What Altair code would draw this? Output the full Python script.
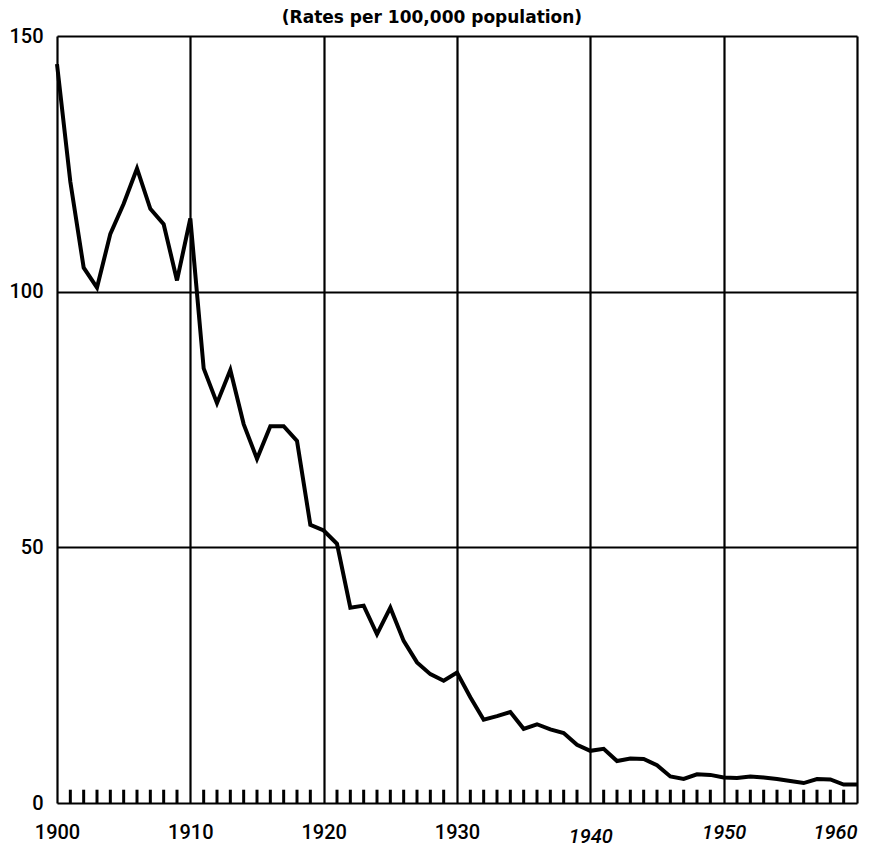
import altair as alt
import pandas as pd

years = list(range(1900, 1961))
rates = [
    144.5, 121.5, 104.7, 100.8, 111.3, 117.2, 124.1, 116.2, 113.2, 102.2,
    114.3, 85.0, 78.2, 84.7, 74.1, 67.3, 73.7, 73.7, 70.8, 54.4,
    53.3, 50.7, 38.2, 38.6, 33.0, 38.2, 31.7, 27.5, 25.2, 23.9,
    25.5, 20.7, 16.3, 17.0, 17.8, 14.5, 15.4, 14.4, 13.7, 11.4,
    10.2, 10.6, 8.2, 8.7, 8.6, 7.4, 5.2, 4.7, 5.6, 5.5,
    5.0, 4.9, 5.2, 5.0, 4.7, 4.3, 3.9, 4.7, 4.6, 3.6, 3.6,
]
tick_years = [y for y in range(1901, 1960) if y % 10 != 0]
x_labels = [1900, 1910, 1920, 1930, 1940, 1950, 1960]
y_labels = [0, 50, 100, 150]
title_text = "(Rates per 100,000 population)"

LFONT = "Roboto"
TFONT = "DejaVu Sans"

df = pd.DataFrame({"year": years, "rate": rates})
tdf = pd.DataFrame({"year": tick_years})

x_scale = alt.Scale(domain=[1900, 1960], nice=False, zero=False)
y_scale = alt.Scale(domain=[0, 150], nice=False, zero=True)

x_axis = alt.Axis(
    values=x_labels, format="d", title=None,
    grid=True, gridColor="black", gridWidth=2.2, gridOpacity=1,
    domain=False, ticks=False, labelFlush=False,
    labelFont=LFONT, labelFontSize=20, labelFontWeight=500, labelColor="black",
    labelBaseline="top",
    labelPadding={"condition": {"test": "datum.value == 1940", "value": 23}, "value": 19},
    labelAlign={"condition": {"test": "datum.value == 1960", "value": "right"}, "value": "center"},
    labelFontStyle={"condition": {"test": "datum.value >= 1940", "value": "italic"}, "value": "normal"},
)
y_axis = alt.Axis(
    values=y_labels, format="d", title=None,
    grid=True, gridColor="black", gridWidth=2.2, gridOpacity=1,
    domain=False, ticks=False,
    labelFont=LFONT, labelFontSize=20, labelFontWeight=500, labelColor="black",
    labelPadding=14,
)

line = alt.Chart(df).mark_line(color="black", strokeWidth=4, strokeJoin="miter").encode(
    x=alt.X("year:Q", scale=x_scale, axis=x_axis),
    y=alt.Y("rate:Q", scale=y_scale, axis=y_axis),
)

ticks = alt.Chart(tdf).mark_rule(color="black", strokeWidth=3).encode(
    x=alt.X("year:Q", scale=x_scale),
    y=alt.datum(0),
    y2=alt.datum(2.6),
)

chart = alt.layer(ticks, line).properties(
    width=800,
    height=767,
    padding={"left": 49, "top": 28, "right": 5, "bottom": 44},
    autosize=alt.AutoSizeParams(type="none"),
    title=alt.TitleParams(
        title_text, font=TFONT, fontSize=17, fontWeight="bold", color="black",
        anchor="middle", dx=-25, offset=-1,
    ),
).configure_view(stroke="black", strokeWidth=2.6).configure(background="white")

chart.save("out.html", embed_options={"renderer": "svg", "actions": False})
